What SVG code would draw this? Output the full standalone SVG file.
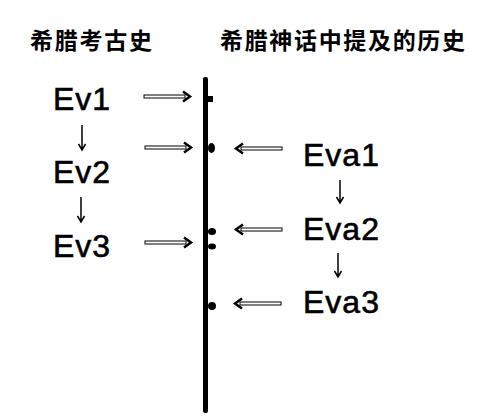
<svg xmlns="http://www.w3.org/2000/svg" width="483" height="418" viewBox="0 0 483 418">
<style>
.title{font-family:"Noto Sans CJK SC","Noto Sans CJK JP",sans-serif;font-size:23px;font-weight:bold;fill:#000}
.ev{font-family:"Liberation Sans",Arial,sans-serif;font-size:32px;fill:#000;stroke:#000;stroke-width:0.6;letter-spacing:1px}
.down{stroke:#000;stroke-width:1.5;fill:none}
.dot{fill:#000}
</style>
<defs>
<g id="dbl">
<rect x="0" y="-1.5" width="41" height="3" fill="#fff" stroke="#000" stroke-width="1"/>
<path d="M39,-5 L46,0 L39,5" fill="none" stroke="#000" stroke-width="2.5"/>
</g>
</defs>
<rect width="483" height="418" fill="#fff"/>
<g id="titles">
<text class="title" x="30" y="49" textLength="122" lengthAdjust="spacing">希腊考古史</text>
<text class="title" x="220" y="49" textLength="245" lengthAdjust="spacing">希腊神话中提及的历史</text>
</g>
<g id="timeline">
<rect x="203" y="77" width="5" height="336" rx="2" fill="#000"/>
<rect class="dot" x="208" y="96" width="5" height="6"/>
<ellipse class="dot" cx="211.5" cy="148" rx="3.5" ry="5"/>
<ellipse class="dot" cx="212" cy="231.5" rx="4" ry="3.5"/>
<ellipse class="dot" cx="212" cy="246.5" rx="4" ry="3"/>
<ellipse class="dot" cx="212" cy="306" rx="4" ry="4"/>
</g>
<g id="Ev1"><text class="ev" x="53" y="110">Ev1</text></g>
<g id="Ev2"><text class="ev" x="53" y="183">Ev2</text></g>
<g id="Ev3"><text class="ev" x="53" y="257">Ev3</text></g>
<g id="Eva1"><text class="ev" x="303" y="166">Eva1</text></g>
<g id="Eva2"><text class="ev" x="303" y="240">Eva2</text></g>
<g id="Eva3"><text class="ev" x="303" y="313">Eva3</text></g>
<g id="connectors">
<use href="#dbl" transform="translate(144,96.5)"/>
<use href="#dbl" transform="translate(145,147.5)"/>
<use href="#dbl" transform="translate(145,242.5)"/>
<use href="#dbl" transform="translate(282,148.5) scale(-1,1)"/>
<use href="#dbl" transform="translate(282,229.5) scale(-1,1)"/>
<use href="#dbl" transform="translate(281,303.5) scale(-1,1)"/>
<path class="down" d="M82,125 V150 M78.5,144 L82,150 L85.5,144"/>
<path class="down" d="M81,197 V222 M77.5,216 L81,222 L84.5,216"/>
<path class="down" d="M340,180 V203 M336.5,197 L340,203 L343.5,197"/>
<path class="down" d="M338,253 V277 M334.5,271 L338,277 L341.5,271"/>
</g>
</svg>
